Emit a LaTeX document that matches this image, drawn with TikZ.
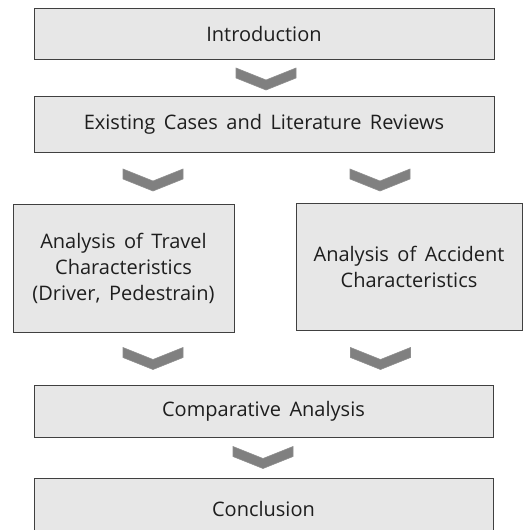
\documentclass[tikz,border=0pt]{standalone}
\usepackage{fontspec}
\setmainfont{Open Sans}
\definecolor{boxgray}{HTML}{E7E7E7}
\definecolor{boxedge}{HTML}{404040}
\definecolor{chevgray}{HTML}{808080}
\definecolor{chevedge}{HTML}{8E8E8E}
\definecolor{txt}{HTML}{1E1E1E}
\newcommand{\boxfont}{\fontsize{20}{26}\selectfont\spaceskip=8.5pt plus 1pt minus 1pt\relax}
\begin{document}
\begin{tikzpicture}[x=1pt,y=-1pt,
  box/.style={draw=boxedge, line width=0.8pt, fill=boxgray, inner sep=0pt,
    align=center, text=txt, font=\boxfont},
  chev/.style={fill=chevgray, draw=chevedge, line width=0.6pt},
  chevron/.pic={\path[chev] (-30,-11) -- (0,1) -- (30,-11) -- (30,-1) -- (0,11) -- (-30,-1) -- cycle;}]
\useasboundingbox (0,0) rectangle (525,530);
\clip (0,0) rectangle (525,530);
\node[box, minimum width=460pt, minimum height=51pt] (intro) at (264,33.5) {Introduction};
\node[box, minimum width=460pt, minimum height=56pt] (lit) at (264,124) {Existing Cases and Literature Reviews};
\node[box, minimum width=221pt, minimum height=128pt] (travel) at (123.5,268) {Analysis of Travel\\Characteristics\\(Driver, Pedestrain)};
\node[box, minimum width=226pt, minimum height=127pt] (accident) at (409,266.5) {Analysis of Accident\\Characteristics};
\node[box, minimum width=459pt, minimum height=52pt] (comp) at (263.5,411) {Comparative Analysis};
\node[box, minimum width=459pt, minimum height=62pt] (concl) at (263.5,509) {Conclusion};
\pic at (266,79) {chevron};
\pic at (153,180) {chevron};
\pic at (380,180) {chevron};
\pic at (153,358.5) {chevron};
\pic at (380.5,358.5) {chevron};
\pic at (263,457.5) {chevron};
\end{tikzpicture}
\end{document}
